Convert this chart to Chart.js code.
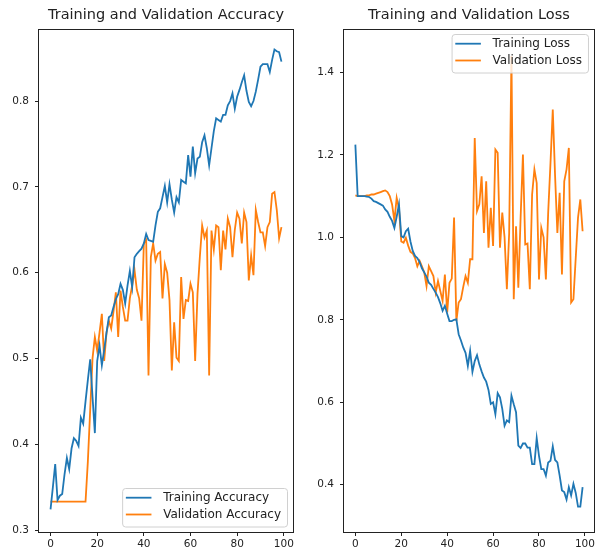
<!DOCTYPE html>
<html>
<head>
<meta charset="utf-8">
<script src="https://cdn.jsdelivr.net/npm/chart.js@4.4.0/dist/chart.umd.min.js"></script>
<style>
  html, body { margin: 0; padding: 0; background: #fff; }
  #wrap { position: relative; width: 597px; height: 554px; overflow: hidden; }
  canvas { position: absolute; top: 0; }
</style>
</head>
<body>
<div id="wrap">
  <canvas id="accChart" width="300" height="554" style="left:0"></canvas>
  <canvas id="lossChart" width="297" height="554" style="left:300px"></canvas>
</div>
<script>
// epochs 0..99
var epochs = [];
for (var i = 0; i < 100; i++) epochs.push(i);

var trainAcc = [
  0.324, 0.350, 0.377, 0.335, 0.340, 0.342, 0.365, 0.384, 0.371, 0.395,
  0.407, 0.404, 0.398, 0.431, 0.424, 0.450, 0.475, 0.499, 0.455, 0.413,
  0.497, 0.515, 0.492, 0.510, 0.530, 0.548, 0.550, 0.560, 0.569, 0.575,
  0.587, 0.580, 0.564, 0.585, 0.602, 0.583, 0.618, 0.622, 0.625, 0.628,
  0.634, 0.645, 0.638, 0.637, 0.636, 0.655, 0.671, 0.675, 0.688, 0.701,
  0.682, 0.703, 0.685, 0.670, 0.688, 0.682, 0.708, 0.706, 0.704, 0.737,
  0.712, 0.747, 0.716, 0.733, 0.735, 0.752, 0.760, 0.745, 0.725, 0.745,
  0.765, 0.780, 0.778, 0.776, 0.784, 0.784, 0.795, 0.800, 0.809, 0.791,
  0.805, 0.813, 0.822, 0.830, 0.812, 0.799, 0.794, 0.800, 0.811, 0.825,
  0.840, 0.843, 0.843, 0.843, 0.834, 0.848, 0.860, 0.858, 0.857, 0.846
];
var valAcc = [
  0.333, 0.333, 0.333, 0.333, 0.333, 0.333, 0.333, 0.333, 0.333, 0.333,
  0.333, 0.333, 0.333, 0.333, 0.333, 0.333, 0.380, 0.440, 0.500, 0.525,
  0.509, 0.530, 0.552, 0.497, 0.530, 0.544, 0.535, 0.555, 0.577, 0.525,
  0.579, 0.560, 0.544, 0.544, 0.570, 0.585, 0.603, 0.580, 0.570, 0.544,
  0.634, 0.638, 0.480, 0.618, 0.634, 0.614, 0.622, 0.624, 0.570, 0.610,
  0.600, 0.568, 0.486, 0.542, 0.501, 0.497, 0.595, 0.546, 0.568, 0.567,
  0.587, 0.577, 0.497, 0.575, 0.618, 0.655, 0.641, 0.649, 0.480, 0.649,
  0.627, 0.655, 0.653, 0.603, 0.649, 0.627, 0.663, 0.653, 0.618, 0.650,
  0.670, 0.663, 0.634, 0.670, 0.659, 0.591, 0.620, 0.597, 0.673, 0.659,
  0.647, 0.647, 0.631, 0.653, 0.659, 0.692, 0.694, 0.673, 0.640, 0.653
];
var trainLoss = [
  1.225, 1.100, 1.100, 1.100, 1.100, 1.099, 1.098, 1.094, 1.088, 1.086,
  1.083, 1.080, 1.077, 1.068, 1.062, 1.050, 1.040, 1.023, 1.050, 1.080,
  1.003, 1.000, 1.015, 1.021, 0.990, 0.967, 0.955, 0.950, 0.940, 0.925,
  0.915, 0.905, 0.890, 0.885, 0.875, 0.866, 0.855, 0.840, 0.822, 0.834,
  0.815, 0.797, 0.797, 0.800, 0.801, 0.765, 0.750, 0.733, 0.720, 0.688,
  0.725, 0.674, 0.700, 0.714, 0.692, 0.675, 0.660, 0.650, 0.630, 0.596,
  0.600, 0.571, 0.622, 0.612, 0.584, 0.543, 0.556, 0.552, 0.616, 0.595,
  0.576, 0.495, 0.489, 0.500, 0.500, 0.490, 0.490, 0.450, 0.450, 0.513,
  0.470, 0.438, 0.438, 0.422, 0.454, 0.458, 0.493, 0.460, 0.454, 0.422,
  0.386, 0.382, 0.364, 0.394, 0.374, 0.402, 0.380, 0.347, 0.347, 0.394
];
var valLoss = [
  1.102, 1.100, 1.100, 1.100, 1.100, 1.102, 1.102, 1.104, 1.104, 1.106,
  1.108, 1.110, 1.112, 1.114, 1.110, 1.100, 1.080, 1.040, 1.096, 1.070,
  0.990, 0.987, 0.999, 0.980, 0.965, 0.961, 0.950, 0.930, 0.943, 0.930,
  0.915, 0.882, 0.930, 0.918, 0.906, 0.866, 0.894, 0.870, 0.846, 0.910,
  0.818, 0.890, 0.900, 1.048, 0.797, 0.842, 0.850, 0.880, 0.906, 0.890,
  0.947, 0.947, 1.241, 1.064, 1.080, 1.148, 1.011, 1.136, 0.975, 1.072,
  0.979, 1.213, 1.205, 0.975, 1.060, 1.000, 0.874, 1.010, 1.440, 0.850,
  1.027, 0.878, 1.050, 1.201, 0.983, 0.985, 0.874, 1.104, 1.165, 1.132,
  0.898, 1.023, 1.000, 0.898, 1.060, 1.180, 1.310, 1.150, 1.011, 1.108,
  0.910, 1.136, 1.165, 1.217, 0.842, 0.850, 0.950, 1.048, 1.092, 1.015
];

var xTicks = [0, 20, 40, 60, 80, 100];
var accTicks = [0.3, 0.4, 0.5, 0.6, 0.7, 0.8];
var lossTicks = [0.4, 0.6, 0.8, 1.0, 1.2, 1.4];

var BLUE = "#1f77b4";
var ORANGE = "#ff7f0e";
var INK = "#222";
var FONT = "'DejaVu Sans', sans-serif";

function pts(arr) {
    return arr.map(function (v, i) { return { x: epochs[i], y: v }; });
}

// matplotlib-like frame, title and legend box
var mplPlugin = {
    id: "mpl",
    afterDatasetsDraw: function (chart, args, opts) {
        var ctx = chart.ctx, a = chart.chartArea;
        ctx.save();
        ctx.strokeStyle = INK;
        ctx.lineWidth = 1;
        ctx.strokeRect(Math.round(a.left) - 0.5, Math.round(a.top) + 0.5,
            Math.round(a.right - a.left) + 1, Math.round(a.bottom - a.top));

        // title
        ctx.fillStyle = INK;
        ctx.font = "14.5px " + FONT;
        ctx.textAlign = "center";
        ctx.textBaseline = "middle";
        ctx.fillText(opts.title, (a.left + a.right) / 2, 15);

        // legend
        ctx.font = "12px " + FONT;
        var sets = chart.data.datasets;
        var tw = 0;
        sets.forEach(function (d) { tw = Math.max(tw, ctx.measureText(d.label).width); });
        var w = tw + 47, h = 38.5;
        var right = a.right - 6;
        var left = right - w;
        var top = opts.legendCorner === "upper" ? a.top + 5 : a.bottom - 5.5 - h;
        ctx.beginPath();
        ctx.roundRect(left + 0.5, top + 0.5, w, h, 3);
        ctx.fillStyle = "rgba(255,255,255,0.8)";
        ctx.fill();
        ctx.strokeStyle = "#d0d0d0";
        ctx.stroke();
        sets.forEach(function (d, k) {
            var y = top + 9.7 + k * 16.8;
            ctx.beginPath();
            ctx.moveTo(left + 3.7, y);
            ctx.lineTo(left + 29.3, y);
            ctx.strokeStyle = d.borderColor;
            ctx.lineWidth = 1.8;
            ctx.stroke();
            ctx.fillStyle = INK;
            ctx.textAlign = "left";
            ctx.fillText(d.label, left + 41, y + 0.5);
        });
        ctx.restore();
    }
};

function makeChart(id, cfg) {
    return new Chart(document.getElementById(id), {
        type: "line",
        data: {
            datasets: [
                { label: cfg.labels[0], data: pts(cfg.series[0]), borderColor: BLUE, backgroundColor: BLUE },
                { label: cfg.labels[1], data: pts(cfg.series[1]), borderColor: ORANGE, backgroundColor: ORANGE }
            ]
        },
        options: {
            responsive: false,
            animation: false,
            layout: { padding: { top: 29, right: cfg.padRight, left: 0, bottom: 0 } },
            elements: {
                line: { borderWidth: 1.8, tension: 0 },
                point: { radius: 0 }
            },
            plugins: {
                legend: { display: false },
                tooltip: { enabled: false },
                mpl: { title: cfg.title, legendCorner: cfg.legendCorner }
            },
            scales: {
                x: {
                    type: "linear",
                    min: -4.95,
                    max: 103.95,
                    afterBuildTicks: function (s) { s.ticks = xTicks.map(function (v) { return { value: v }; }); },
                    afterFit: function (s) { s.height = 22; },
                    border: { display: false },
                    grid: { drawOnChartArea: false, drawTicks: true, tickLength: 4, color: INK },
                    ticks: { color: INK, font: { family: FONT, size: 10.5 }, padding: 2, maxRotation: 0,
                             callback: function (v) { return String(v); } }
                },
                y: {
                    min: cfg.yMin,
                    max: cfg.yMax,
                    afterBuildTicks: function (s) { s.ticks = cfg.yTicks.map(function (v) { return { value: v }; }); },
                    afterFit: function (s) { s.width = cfg.yWidth; },
                    border: { display: false },
                    grid: { drawOnChartArea: false, drawTicks: true, tickLength: 4, color: INK },
                    ticks: { color: INK, font: { family: FONT, size: 10.5 }, padding: 6,
                             callback: function (v) { return v.toFixed(1); } }
                }
            }
        },
        plugins: [mplPlugin]
    });
}

var accChart = makeChart("accChart", {
    title: "Training and Validation Accuracy",
    labels: ["Training Accuracy", "Validation Accuracy"],
    series: [trainAcc, valAcc],
    yMin: 0.2977, yMax: 0.884, yTicks: accTicks,
    yWidth: 39, padRight: 7, legendCorner: "lower"
});

var lossChart = makeChart("lossChart", {
    title: "Training and Validation Loss",
    labels: ["Training Loss", "Validation Loss"],
    series: [trainLoss, valLoss],
    yMin: 0.2853, yMax: 1.5055, yTicks: lossTicks,
    yWidth: 44, padRight: 2, legendCorner: "upper"
});
</script>
</body>
</html>
